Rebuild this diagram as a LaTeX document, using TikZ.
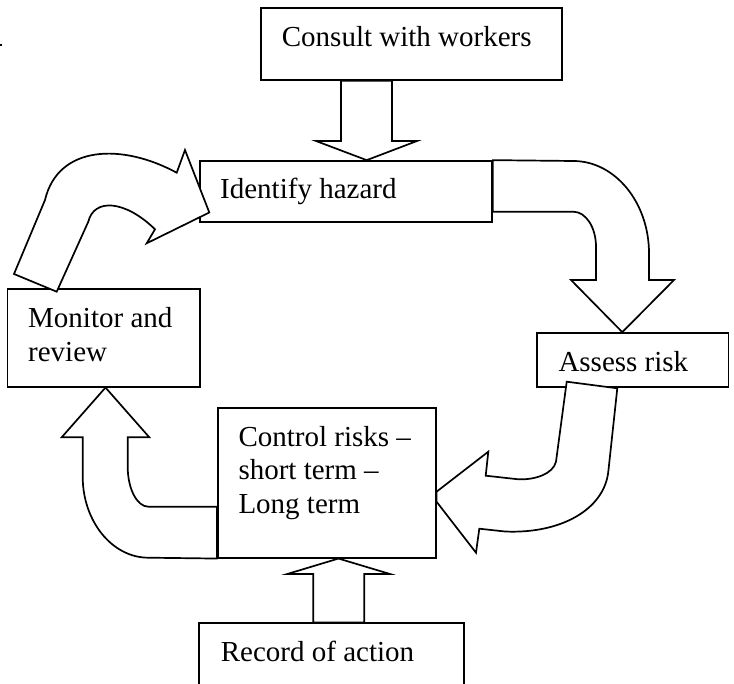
\documentclass[tikz,border=0pt]{standalone}
\usepackage{fontspec}
\setmainfont{Liberation Serif}
\tikzset{
  box/.style={draw, fill=white, line width=1.7pt, inner sep=0pt, rectangle},
  blockarrow/.style={draw, fill=white, line width=1.7pt, line join=miter},
  txt/.style={anchor=base west, inner sep=0pt, font=\fontsize{29}{33.5}\selectfont}
}
\begin{document}
\begin{tikzpicture}[x=1pt,y=-1pt]
\useasboundingbox (0,0) rectangle (734,684);
\clip (0,0) rectangle (734,684);
% boxes
\node[box, minimum width=301pt, minimum height=72pt] (consult) at (411.5,44) {};
\node[box, minimum width=292pt, minimum height=61pt] (identify) at (346,191.5) {};
\node[box, minimum width=191.5pt, minimum height=54pt] (assess) at (632.75,360) {};
\node[box, minimum width=192.7pt, minimum height=97.4pt] (monitor) at (103.7,338) {};
\node[box, minimum width=218pt, minimum height=150pt] (control) at (326.7,482.7) {};
\node[box, minimum width=264.7pt, minimum height=90pt] (record) at (331.65,668.3) {};
% small stray mark
\fill (0,44) rectangle (2,46.5);
% consult -> identify
\draw[blockarrow] (consult.south -| 341,0) -- (341,141) -- (316,141) -- (identify.north -| 366.7,0) -- (417,141) -- (392,141) -- (consult.south -| 392,0) -- cycle;
% record -> control
\draw[blockarrow] (record.north -| 313.3,0) -- (313.3,574) -- (287.3,574) -- (control.south -| 338.5,0) -- (390,574) -- (364.3,574) -- (record.north -| 364.3,0) -- cycle;
% identify -> assess
\draw[blockarrow] (identify.north east) -- (573.3,161) .. controls (615,161) and (649,202.5) .. (649,253.3) -- (649,280) -- (674,280) -- (assess.north -| 622.3,0) -- (571,280) -- (596,280) -- (596,246.7) .. controls (596,227.4) and (585.8,211.7) .. (573.3,211.7) -- (identify.east |- 0,211.7) -- cycle;
% assess -> control
\draw[blockarrow] (566.7,381.7) -- (556,461.7) .. controls (553,474) and (535,480) .. (518.3,479.3) -- (485.7,475.7) -- (488.3,451.7) -- (control.east |- 0,491.7) -- (control.east |- 0,501.7) -- (476,552.7) -- (479.3,528.7) -- (505,531.5) .. controls (560,534) and (604,510) .. (608.3,471.7) -- (617.3,388.3) -- cycle;
% control -> monitor
\draw[blockarrow] (control.west |- 0,506.7) -- (148.3,506.7) .. controls (137,506.7) and (127.7,488.7) .. (127.7,466.7) -- (127.7,437.3) -- (149.3,437.3) -- (monitor.south -| 105.5,0) -- (61.7,437.3) -- (82.7,437.3) -- (82.7,476.7) .. controls (82.7,521.3) and (112.2,557.7) .. (148.3,557.7) -- (control.south west) -- cycle;
% monitor -> identify
\draw[blockarrow] (56.7,291.7) -- (14,274) -- (45,200) .. controls (58,145) and (122,143) .. (176.7,172.7) -- (185,150) -- (209.3,212.5) -- (146.7,243.3) -- (155,229.3) .. controls (125,200) and (94,198) .. (88.3,221.7) -- cycle;
% texts
\node[txt] (tconsult) at (281.7,47) {Consult with workers};
\node[txt] (tidentify) at (220,199) {Identify hazard};
\node[txt] (tassess) at (558.3,371.7) {Assess risk};
\node[txt] (tmonitorA) at (28,327.5) {Monitor and};
\node[txt] (tmonitorB) at (28,361.7) {review};
\node[txt] (tcontrolA) at (238.3,446.7) {Control risks –};
\node[txt] (tcontrolB) at (238.3,480) {short term –};
\node[txt] (tcontrolC) at (238.3,513.3) {Long term};
\node[txt] (trecord) at (220.7,661) {Record of action};
\end{tikzpicture}
\end{document}
